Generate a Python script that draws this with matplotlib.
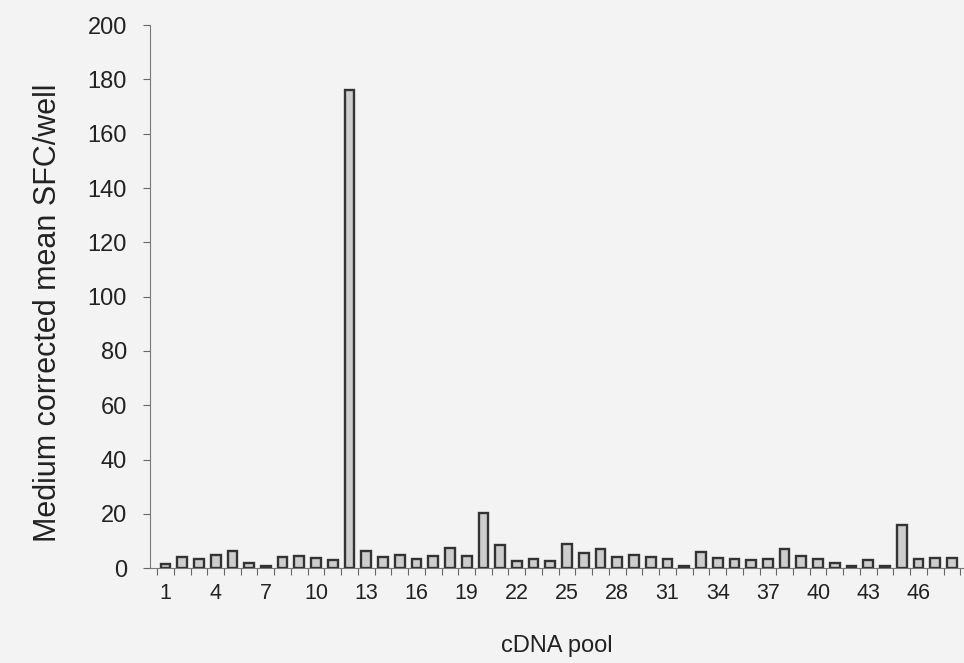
import matplotlib.pyplot as plt
import numpy as np

plt.rcParams['font.family'] = ['Liberation Sans', 'DejaVu Sans']

# cDNA pools 1..48 and medium corrected mean SFC/well
pools = list(range(1, 49))
sfc = [1.6, 4.0, 3.3, 5.0, 6.5, 2.0, 0.8, 4.0, 4.4, 3.8,
       3.2, 176.0, 6.5, 4.2, 5.0, 3.5, 4.5, 7.5, 4.5, 20.5,
       8.5, 2.5, 3.5, 2.8, 9.0, 5.5, 7.0, 4.0, 5.0, 4.0,
       3.4, 0.8, 6.0, 3.7, 3.4, 3.0, 3.4, 7.2, 4.5, 3.4,
       1.8, 0.9, 3.2, 0.7, 16.0, 3.4, 3.6, 3.9]
xlabels = list(range(1, 47, 3))
yticks = list(range(0, 201, 20))

fig = plt.figure(figsize=(9.64, 6.63), dpi=100, facecolor='#f3f3f3')
ax = fig.add_axes([0.156, 0.143, 0.844, 0.819])
ax.set_facecolor('#f3f3f3')

ax.bar(pools, sfc, width=0.58, color='#cdcdcd', edgecolor='#333333', linewidth=1.7)

ax.set_xlim(0.1, 48.72)
ax.set_ylim(0, 200)
ax.set_yticks(yticks)
ax.set_xticks(xlabels)
ax.set_xticks(np.arange(0.5, 49, 1), minor=True)
ax.tick_params(axis='x', which='major', length=0, pad=11, labelsize=15.5, colors='#222222')
ax.tick_params(axis='x', which='minor', length=5, width=0.8, color='#666666')
ax.tick_params(axis='y', length=5, width=0.8, color='#666666', labelsize=17, labelcolor='#222222', pad=12)

for s in ['top', 'right']:
    ax.spines[s].set_visible(False)
ax.spines['left'].set_color('#777777')
ax.spines['bottom'].set_color('#777777')

ax.set_ylabel('Medium corrected mean SFC/well', fontsize=22, color='#222222')
ax.yaxis.set_label_coords(-0.107, 0.47)
ax.set_xlabel('cDNA pool', fontsize=17, color='#222222', labelpad=22)

fig.savefig('out.png', dpi=100, facecolor=fig.get_facecolor())
